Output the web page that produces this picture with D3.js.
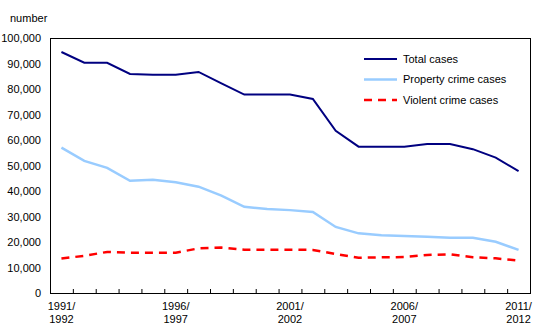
<!DOCTYPE html>
<html>
<head>
<meta charset="utf-8">
<script src="https://cdn.jsdelivr.net/npm/d3@7"></script>
<style>
  body { margin: 0; background: #fff; }
  svg text { font-family: "Liberation Sans", Arial, sans-serif; font-size: 11px; fill: #000; }
</style>
</head>
<body>
<div id="chart"></div>
<script>
// fiscal years, 1991/1992 .. 2011/2012
const years = d3.range(1991, 2012);
const totalCases    = [94.5, 90.3, 90.3, 85.9, 85.6, 85.6, 86.7, 82.2, 77.8, 77.8, 77.8, 76.1, 63.6, 57.4, 57.4, 57.4, 58.4, 58.4, 56.4, 53.1, 47.8];
const propertyCases = [57.0, 51.8, 49.1, 44.0, 44.4, 43.4, 41.7, 38.2, 33.8, 32.9, 32.5, 31.8, 25.9, 23.4, 22.6, 22.4, 22.1, 21.7, 21.7, 20.1, 16.9];
const violentCases  = [13.5, 14.6, 16.1, 15.8, 15.8, 15.8, 17.5, 17.8, 17.0, 17.0, 17.0, 16.9, 15.3, 13.8, 14.0, 14.1, 14.9, 15.2, 14.0, 13.6, 12.7];
const yTicks = d3.range(0, 100001, 10000);
const labelYears = [1991, 1996, 2001, 2006, 2011];

const series = [
  { name: "Total cases", values: totalCases, color: "#000080", width: 2, dash: null },
  { name: "Property crime cases", values: propertyCases, color: "#99ccff", width: 2.5, dash: null },
  { name: "Violent crime cases", values: violentCases, color: "#ff0000", width: 2.5, dash: "8,6" }
];

const W = 540, H = 334;
const margin = { top: 38, right: 10, bottom: 41, left: 50 };
const width = W - margin.left - margin.right;
const height = H - margin.top - margin.bottom;

const svg = d3.select("#chart").append("svg")
  .attr("width", W)
  .attr("height", H);

const g = svg.append("g")
  .attr("transform", "translate(" + margin.left + "," + margin.top + ")");

const x = d3.scaleBand().domain(years).range([0, width]);
const y = d3.scaleLinear().domain([0, 100000]).range([height, 0]);

// y axis labels
const yAxis = d3.axisLeft(y)
  .tickValues(yTicks)
  .tickSize(0)
  .tickPadding(9)
  .tickFormat(d3.format(","));

g.append("g")
  .attr("class", "y-axis")
  .call(yAxis)
  .call(a => a.select(".domain").remove());

// x tick marks at category boundaries, pointing inward
g.append("g")
  .selectAll("line")
  .data(years.slice(1))
  .join("line")
  .attr("x1", d => x(d) + 0.5)
  .attr("x2", d => x(d) + 0.5)
  .attr("y1", height)
  .attr("y2", height - 4)
  .attr("stroke", "#000")
  .attr("stroke-width", 1);

// x labels
const xl = g.append("g")
  .selectAll("text")
  .data(labelYears)
  .join("text")
  .attr("x", d => x(d) + x.bandwidth() / 2)
  .attr("text-anchor", "middle");
xl.append("tspan")
  .attr("x", d => x(d) + x.bandwidth() / 2)
  .attr("y", height + 17)
  .text(d => d + "/");
xl.append("tspan")
  .attr("x", d => x(d) + x.bandwidth() / 2)
  .attr("y", height + 30)
  .text(d => d + 1);

// lines
const line = d3.line()
  .x((d, i) => x(years[i]) + x.bandwidth() / 2)
  .y(d => y(d * 1000));

series.forEach(s => {
  g.append("path")
    .datum(s.values)
    .attr("fill", "none")
    .attr("stroke", s.color)
    .attr("stroke-width", s.width)
    .attr("stroke-dasharray", s.dash)
    .attr("d", line);
});

// plot frame
g.append("rect")
  .attr("x", 0.5)
  .attr("y", 0.5)
  .attr("width", width)
  .attr("height", height)
  .attr("fill", "none")
  .attr("stroke", "#000")
  .attr("stroke-width", 1);

// legend
const legend = g.append("g")
  .attr("transform", "translate(314,21)");

const li = legend.selectAll("g")
  .data(series)
  .join("g")
  .attr("transform", (d, i) => "translate(0," + (i * 20.5) + ")");

li.append("line")
  .attr("x1", 0)
  .attr("x2", 33)
  .attr("stroke", d => d.color)
  .attr("stroke-width", d => d.width)
  .attr("stroke-dasharray", d => d.dash);

li.append("text")
  .attr("x", 39)
  .attr("dy", "0.35em")
  .text(d => d.name);

// unit label
svg.append("text")
  .attr("x", 10)
  .attr("y", 22)
  .text("number");
</script>
</body>
</html>
